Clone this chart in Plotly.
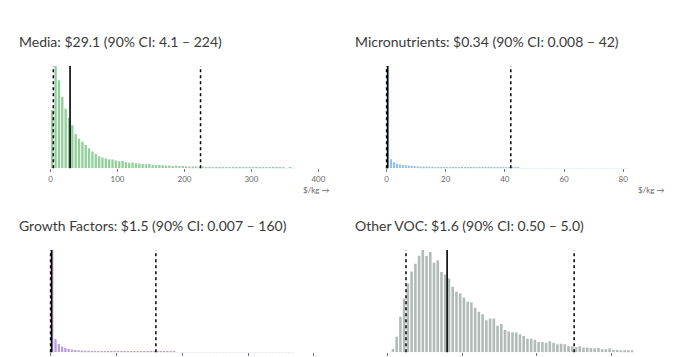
import plotly.graph_objects as go

W, H = 682, 357
OFF = 8  # page body margin in the browser

# ---- data ----
titles = [
    "Media: $29.1 (90% CI: 4.1 – 224)",
    "Micronutrients: $0.34 (90% CI: 0.008 – 42)",
    "Growth Factors: $1.5 (90% CI: 0.007 – 160)",
    "Other VOC: $1.6 (90% CI: 0.50 – 5.0)",
]
medians = [29.1, 0.34, 1.5, 1.6]
ci_low = [4.1, 0.008, 0.007, 0.50]
ci_high = [224, 42, 160, 5.0]

bin_start = [0, 0, 0, 0.1]
bin_width = [5, 1, 5, 0.1]

media_counts = [583, 1023, 880, 715, 595, 505, 430, 343, 295, 265,
                233, 200, 167, 145, 120, 107, 97, 90, 87, 77,
                70, 75, 60, 55, 57, 50, 47, 43, 40, 42,
                36, 33, 34, 30, 27, 28, 24, 25, 22, 23,
                20, 18, 19, 17, 16, 17, 14, 15, 13, 12,
                13, 11, 10, 11, 10, 9, 10, 8, 9, 7,
                8, 7, 6, 7, 5, 6, 5, 4, 5, 4,
                3, 4, 3]
micro_counts = [1023, 90, 60, 45, 37, 33, 30, 27, 25, 23,
                21, 19, 18, 17, 16, 15, 14, 13, 12, 11,
                10, 10, 9, 9, 8, 8, 8, 7, 7, 7,
                6, 6, 6, 6, 5, 5, 5, 5, 5, 4,
                4, 4, 4, 4, 4, 3, 3, 3, 3, 3,
                3, 3, 3, 3, 3, 2, 2, 2, 2, 2,
                2, 2, 2, 2, 2, 2, 2, 2, 2, 2,
                2, 2, 1, 2, 1, 1, 2, 1, 1, 1,
                1, 1]
growth_counts = [1023, 130, 83, 57, 43, 33, 27, 23, 20, 18,
                 16, 15, 13, 12, 11, 10, 10, 9, 9, 8,
                 8, 7, 7, 7, 6, 6, 6, 5, 5, 5,
                 5, 5, 4, 4, 4, 4, 4, 4, 3, 3,
                 3, 3, 3, 3, 3, 3, 2, 2, 2, 2,
                 2, 2, 2, 2, 2, 2, 2, 2, 2, 2,
                 1, 1, 2, 1, 1, 1, 1, 1, 1, 1,
                 1, 1, 1, 1]
voc_counts = [33, 157, 357, 540, 690, 810, 890, 970, 1027, 967,
              1007, 900, 923, 807, 780, 740, 657, 607, 590, 550,
              507, 500, 447, 407, 383, 323, 340, 340, 267, 283,
              223, 210, 202, 200, 180, 163, 137, 137, 127, 103,
              103, 97, 110, 97, 80, 87, 80, 63, 60, 53,
              60, 47, 47, 43, 40, 43, 30, 30, 40, 23,
              23, 20, 20, 20, 20]
counts = [media_counts, micro_counts, growth_counts, voc_counts]

tick_vals = [[0, 100, 200, 300, 400], [0, 20, 40, 60, 80],
             [0, 100, 200, 300, 400], [0, 2, 4, 6]]
x_label = "$/kg →"

# ---- style / layout (pixel positions in the browser window) ----
colors = ["#93cf9c", "#93bfec", "#bc9ddf", "#b3bbb8"]
x_dom_px = [(45, 325), (382, 662), (45, 325), (382, 662)]
x_ranges = [(-8.49, 408.5), (-1.92, 92.48), (-8.64, 415.6), (-0.172, 7.30)]
y_px = [(66, 168.3), (66, 168.3), (250, 352.3), (250, 352.3)]
title_pos = [(17, 41), (354, 41), (17, 225), (354, 225)]
label_pos = [(333, 190), (669, 190), None, None]  # bottom-row labels fall below the visible area
show_tick_labels = [True, True, False, False]


def px_x(p):
    return (p - OFF) / W


def px_y(p):
    return (H - (p - OFF)) / H


fig = go.Figure()
layout = dict(
    width=W, height=H, margin=dict(l=0, r=0, t=0, b=0),
    paper_bgcolor="white", plot_bgcolor="white",
    showlegend=False, bargap=0.3,
    font=dict(family="Lato", color="#333"),
)
annotations = []
shapes = []
for k in range(4):
    n = k + 1
    xa = "x" if n == 1 else f"x{n}"
    ya = "y" if n == 1 else f"y{n}"
    xs = [bin_start[k] + bin_width[k] * (i + 0.5) for i in range(len(counts[k]))]
    fig.add_trace(go.Bar(x=xs, y=counts[k], marker=dict(color=colors[k], line=dict(width=0)),
                         xaxis=xa, yaxis=ya, hoverinfo="skip"))
    x0, x1 = x_dom_px[k]
    yt, yb = y_px[k]
    layout[f"xaxis{'' if n == 1 else n}"] = dict(
        domain=[px_x(x0), px_x(x1)], range=list(x_ranges[k]), anchor=ya,
        showgrid=False, zeroline=False, showline=False,
        ticks="outside", ticklen=3, tickwidth=1, tickcolor="#777",
        tickvals=tick_vals[k], showticklabels=show_tick_labels[k],
        tickfont=dict(size=8, color="#666", family="Lato"),
    )
    layout[f"yaxis{'' if n == 1 else n}"] = dict(
        domain=[px_y(yb), px_y(yt)], range=[0, max(counts[k])], anchor=xa,
        visible=False, showgrid=False, zeroline=False,
    )
    for val, dash, wdt in [(ci_low[k], "dot", 1.5), (ci_high[k], "dot", 1.5), (medians[k], "solid", 1.6)]:
        shapes.append(dict(type="line", xref=xa, yref=f"{ya} domain", x0=val, x1=val, y0=0, y1=1,
                           line=dict(color="black", width=wdt, dash=dash)))
    tx, ty = title_pos[k]
    annotations.append(dict(text=titles[k], xref="paper", yref="paper", x=px_x(tx), y=px_y(ty),
                            xanchor="left", yanchor="middle", showarrow=False,
                            font=dict(size=14, color="#3a3a3a", family="Lato")))
    if label_pos[k] is not None:
        lx, ly = label_pos[k]
        annotations.append(dict(text=x_label, xref="paper", yref="paper", x=px_x(lx), y=px_y(ly),
                                xanchor="right", yanchor="middle", showarrow=False,
                                font=dict(size=8, color="#666", family="Lato")))

layout["annotations"] = annotations
layout["shapes"] = shapes
fig.update_layout(**layout)
fig.write_html("out.html")
